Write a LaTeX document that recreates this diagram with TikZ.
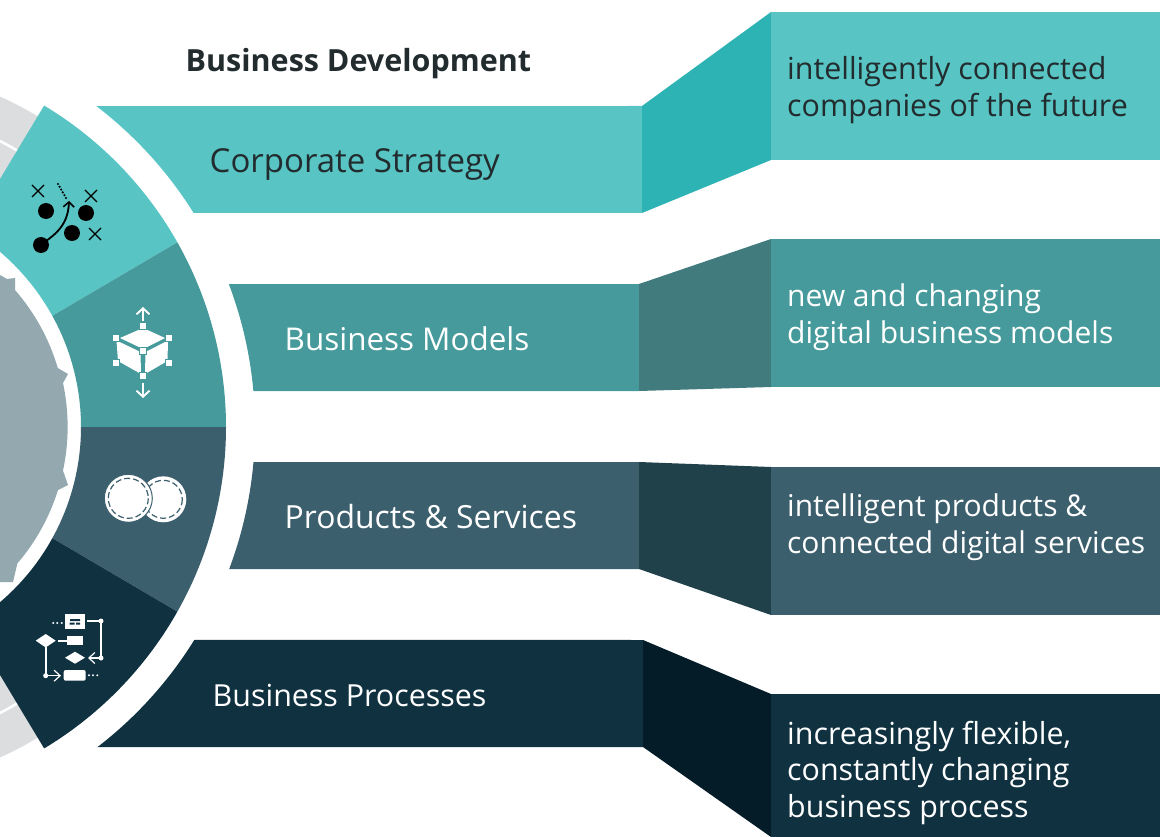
\documentclass[tikz,border=0pt]{standalone}
\usepackage{fontspec}
\setmainfont{Open Sans}
\usetikzlibrary{arrows.meta}
\definecolor{teala}{HTML}{58C4C4}\definecolor{tealb}{HTML}{2EB3B5}
\definecolor{greena}{HTML}{479A9B}\definecolor{greenb}{HTML}{417B7D}
\definecolor{slatea}{HTML}{3C5F6E}\definecolor{slateb}{HTML}{20404A}
\definecolor{navya}{HTML}{0F3140}\definecolor{navyb}{HTML}{031C28}
\definecolor{ringgray}{HTML}{DCDDDE}\definecolor{coregray}{HTML}{93A8AF}
\definecolor{inkdark}{HTML}{222B2E}
\newcommand{\pp}[2]{({-149+(#1)*cos(#2)},{427-(#1)*sin(#2)})}
\newcommand{\ringseg}[3]{\fill[#3] \pp{375}{#1} arc[start angle=#1,end angle=#2,radius=375pt] -- \pp{230}{#2} arc[start angle=#2,end angle=#1,radius=230pt] -- cycle;}
\tikzset{
 bigtxt/.style={inner sep=0pt,anchor=base west},
 blocktxt/.style={font=\fontsize{30.4}{36.3}\selectfont,inner sep=0pt,anchor=north west,align=left},
 narrowtxt/.style={blocktxt,font=\fontsize{30}{36.3}\selectfont},
 handle/.style={fill=white,draw=greena,line width=0.4pt,minimum size=7pt,inner sep=0pt,rectangle},
 openarrow/.style={-{Straight Barb[length=6pt,width=11pt,line width=1.2pt]}},
 cubearrow/.style={-{Straight Barb[length=6pt,width=13pt,line width=1.9pt]}},
}
\begin{document}
\begin{tikzpicture}[x=1pt,y=-1pt]
\useasboundingbox (0,0) rectangle (1160,837);
\clip (0,0) rectangle (1160,837);
% outer gray ring
\fill[ringgray] (-149,427) -- \pp{362.5}{58} arc[start angle=58,end angle=100,radius=362.5pt] -- cycle;
\fill[ringgray] (-149,427) -- \pp{362.5}{-58} arc[start angle=-58,end angle=-100,radius=362.5pt] -- cycle;
\draw[white,line width=2.5pt] \pp{322.5}{58} arc[start angle=58,end angle=100,radius=322.5pt];
\draw[white,line width=2.5pt] \pp{322.5}{-58} arc[start angle=-58,end angle=-100,radius=322.5pt];
% centre gear
\fill[coregray] (-10,275) -- (0,275) -- (7,279) -- (15,278) -- (15,290)
  arc[start angle=41.1,end angle=16.4,radius=208pt] -- (68,374) -- (63,383)
  arc[start angle=12.1,end angle=-12.1,radius=209pt] -- (68,485) -- (58,490)
  arc[start angle=-17.3,end angle=-40.6,radius=208pt] -- (13,582) -- (-10,582) -- cycle;
% ring segments
\fill[teala] \pp{375}{29.5} arc[start angle=29.5,end angle=59,radius=375pt] -- \pp{230}{59} arc[start angle=59,end angle=28.9,radius=230pt] -- cycle;
\fill[greena] \pp{375}{0} arc[start angle=0,end angle=29.5,radius=375pt] -- \pp{230}{28.9} arc[start angle=28.9,end angle=0,radius=230pt] -- cycle;
\fill[slatea] \pp{375}{-29.5} arc[start angle=-29.5,end angle=0,radius=375pt] -- \pp{230}{0} arc[start angle=0,end angle=-28.9,radius=230pt] -- cycle;
\fill[navya] \pp{375}{-59} arc[start angle=-59,end angle=-29.5,radius=375pt] -- \pp{230}{-28.9} arc[start angle=-28.9,end angle=-59,radius=230pt] -- cycle;
% bands
\fill[teala] \pp{404}{52.6} -- (642,106) -- (642,213) -- \pp{404}{32} arc[start angle=32,end angle=52.6,radius=404pt] -- cycle;
\fill[tealb] (642,106) -- (771,12) -- (771,160) -- (642,213) -- cycle;
\fill[teala] (771,12) rectangle (1160,160);
\fill[greena] \pp{404}{20.7} -- (639,284) -- (639,391) -- \pp{404}{5.1} arc[start angle=5.1,end angle=20.7,radius=404pt] -- cycle;
\fill[greenb] (639,284) -- (771,239) -- (771,387) -- (639,391) -- cycle;
\fill[greena] (771,239) rectangle (1160,387);
\fill[slatea] \pp{404}{-5} -- (639,462) -- (639,569) -- \pp{404}{-20.6} arc[start angle=-20.6,end angle=-5,radius=404pt] -- cycle;
\fill[slateb] (639,462) -- (771,467) -- (771,615) -- (639,569) -- cycle;
\fill[slatea] (771,467) rectangle (1160,615);
\fill[navya] \pp{404}{-31.8} -- (643,640) -- (643,747) -- \pp{404}{-52.4} arc[start angle=-52.4,end angle=-31.8,radius=404pt] -- cycle;
\fill[navyb] (643,640) -- (771,694) -- (771,837) -- (643,747) -- cycle;
\fill[navya] (771,694) rectangle (1160,837);
% strategy icon
\fill[black] (46,211) circle[radius=8] (86,213) circle[radius=8] (72,233) circle[radius=8] (41,245) circle[radius=8];
\draw[black,line width=1.4pt] (32,185)--(44,197) (44,185)--(32,197) (85,190)--(97,202) (97,190)--(85,202) (89,228)--(101,240) (101,228)--(89,240);
\draw[black,line width=1.8pt,-{Straight Barb[length=5pt,width=11pt,line width=1.5pt]}] (41,245) .. controls (52,236) and (68,228) .. (69,201);
\fill[black] (58,184) circle[radius=1.2] (59.6,186.8) circle[radius=1.2] (61.2,189.6) circle[radius=1.2] (62.8,192.4) circle[radius=1.2] (64.4,195.2) circle[radius=1.2] (66,198) circle[radius=1.2];
% model icon
\fill[white] (143,328) -- (165,338) -- (143,349) -- (120,338) -- cycle;
\fill[white] (116.5,340.5) -- (140.5,352) -- (141,374) -- (118,361) -- cycle;
\fill[white] (145.5,352) -- (168,340.5) -- (167.5,361) -- (145,374) -- cycle;
\draw[white,line width=2.4pt,cubearrow] (143,321) -- (143,307);
\draw[white,line width=2.4pt,cubearrow] (143,383) -- (143,398);
\node[handle] (h1) at (143,326) {};
\node[handle] (h2) at (116,338) {};
\node[handle] (h3) at (169,338) {};
\node[handle] (h4) at (143,351) {};
\node[handle] (h5) at (116,363) {};
\node[handle] (h6) at (169,363) {};
\node[handle] (h7) at (143,376) {};
% coins icon
\fill[white] (163.3,499.3) circle[radius=23];
\draw[slatea,line width=1.2pt,dash pattern=on 6pt off 3pt] (163.3,499.3) circle[radius=19];
\fill[white,draw=slatea,line width=1pt] (128.3,498.3) circle[radius=24];
\draw[slatea,line width=1.2pt,dash pattern=on 6pt off 3pt] (128.3,498.3) circle[radius=20];
% process icon
\fill[white] (65,614) rectangle (85,629);
\fill[navya] (70,619) rectangle (80,621) (69.5,622.5) rectangle (74.5,624.5) (76,622.5) rectangle (80,624.5);
\fill[white] (53.3,623) circle[radius=1.1] (57.3,623) circle[radius=1.1] (61.7,623) circle[radius=1.1];
\draw[white,line width=2pt] (87,621) -- (101,621) -- (101,658);
\fill[white] (101,621) circle[radius=2.5] (101,658) circle[radius=2.5];
\draw[white,line width=1.2pt,openarrow] (101,658) -- (88,658);
\fill[white] (35.7,640.7) -- (45.7,634) -- (55.7,640.7) -- (45.7,647.4) -- cycle;
\draw[white,line width=2pt] (58,641) -- (68,641);
\fill[white] (67,636) rectangle (83,645);
\fill[white] (65,657.7) -- (75,651.7) -- (85,657.7) -- (75,663.7) -- cycle;
\draw[white,line width=2pt] (45.7,647) -- (45.7,675.7);
\fill[white] (45.7,675.7) circle[radius=2.5];
\draw[white,line width=1.2pt,openarrow] (45.7,675.7) -- (61,675.7);
\fill[white,rounded corners=2pt] (63.7,670) rectangle (85.7,680.7);
\fill[white] (89,675.3) circle[radius=1.1] (93,675.3) circle[radius=1.1] (97.3,675.3) circle[radius=1.1];
% text
\node[bigtxt,font=\fontsize{30.5}{36}\selectfont\bfseries,text=inkdark] (title) at (185.5,71.5) {Business Development};
\node[bigtxt,font=\fontsize{33}{36}\selectfont,text=inkdark] (b1) at (209.5,172.5) {Corporate Strategy};
\node[bigtxt,font=\fontsize{31.4}{36}\selectfont,text=white] (b2) at (284.5,350) {Business Models};
\node[bigtxt,font=\fontsize{31.9}{36}\selectfont,text=white] (b3) at (284.5,528) {Products \& Services};
\node[bigtxt,font=\fontsize{30.4}{36}\selectfont,text=white] (b4) at (212.5,706) {Business Processes};
\node[blocktxt,text=inkdark] (d1) at (787,56.5) {intelligently connected\\companies of the future};
\node[narrowtxt,text=white] (d2) at (787,284) {new and changing\\digital business models};
\node[narrowtxt,text=white] (d3) at (787,494) {intelligent products \&\\connected digital services};
\node[blocktxt,text=white] (d4) at (787,721) {increasingly flexible,\\constantly changing\\business process};
\end{tikzpicture}
\end{document}
